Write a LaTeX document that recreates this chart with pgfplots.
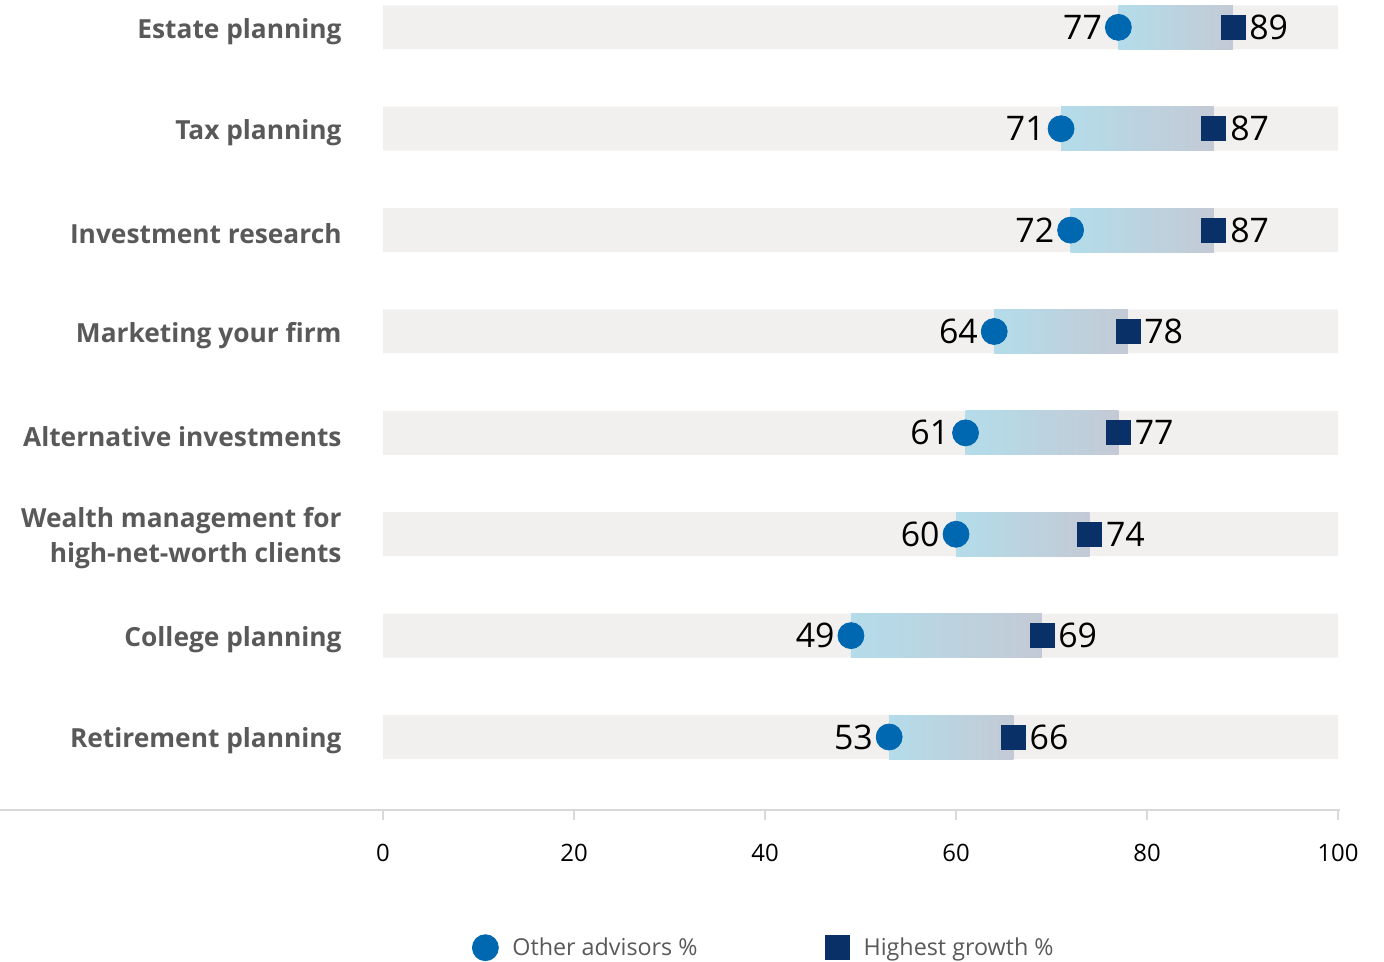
\documentclass[border=0pt]{standalone}
\usepackage{pgfplots}
\pgfplotsset{compat=1.18}
\usepackage{pgfplotstable}
\usepackage{fontspec}
\setmainfont{Open Sans}
\definecolor{bgray}{HTML}{F1F0EF}
\definecolor{gradL}{HTML}{B4DCEA}
\definecolor{gradR}{HTML}{C3CAD5}
\definecolor{dotblue}{HTML}{0068B1}
\definecolor{sqnavy}{HTML}{0A3068}
\definecolor{labgray}{HTML}{595959}
\definecolor{axgray}{HTML}{D9D9D9}

\pgfplotstableread{
idx other high full
0 53 66 100
1 49 69 100
2 60 74 100
3 61 77 100
4 64 78 100
5 72 87 100
6 71 87 100
7 77 89 100
}\data

\pgfplotsset{
  base/.style={
    width=477.5bp, height=405bp, scale only axis,
    xmin=0, xmax=100, ymin=-0.72, ymax=7.27,
    at={(191.5bp,76bp)}, anchor=south west,
    axis line style={draw=none},
    /pgf/number format/assume math mode=true,
    clip=false,
  },
  hidden/.style={base, xtick=\empty, ytick=\empty},
}

\begin{document}
\begin{tikzpicture}
\path[use as bounding box] (0,0) rectangle (692bp,481bp);

% background bars, axis, ticks, labels
\begin{axis}[base,
  xtick={0,20,...,100},
  tick align=outside,
  xtick pos=bottom,
  major tick length=5bp,
  xtick style={color=axgray, line width=1bp},
  xticklabel style={font=\fontsize{12}{14}\selectfont, text=black, inner sep=0pt, yshift=-12bp, anchor=north},
  ytick={0,...,7},
  ytick style={draw=none},
  yticklabels={Retirement planning, College planning, {Wealth management for\\high-net-worth clients}, Alternative investments, Marketing your firm, Investment research, Tax planning, Estate planning},
  yticklabel style={font=\bfseries\fontsize{13.2}{17.5}\selectfont, text=labgray, align=right, inner sep=0pt, xshift=-15.5bp, yshift=-2bp, anchor=east},
]
\addplot[xbar, bar width=0.434, fill=bgray, draw=none] table[x=full, y=idx] {\data};
\draw[axgray, line width=1bp] (rel axis cs:-0.401,0) -- (rel axis cs:1.002,0);
\end{axis}

% gradient range bars (one shaded node per row, from other to high)
\begin{axis}[hidden]
\addplot[only marks, mark=*, mark size=0.1bp, mark options={draw=none, fill=none},
  visualization depends on={\thisrow{high}-\thisrow{other} \as \len},
  point meta=x, nodes near coords={},
  nodes near coords style={anchor=west, inner sep=0pt, outer sep=0pt,
    minimum width=\len*4.775bp, minimum height=22bp,
    left color=gradL, right color=gradR, draw=none}]
  table[x=other, y=idx] {\data};
\end{axis}

% markers, value labels, legend
\begin{axis}[hidden,
  legend columns=2,
  legend style={at={(0.4,-0.17)}, anchor=center, draw=none, fill=none,
    font=\fontsize{11.7}{14}\selectfont, text=labgray,
    /tikz/every odd column/.append style={column sep=5bp},
    /tikz/every even column/.append style={column sep=62bp}},
]
\addplot[only marks, mark=*, mark size=6.5bp, color=dotblue, mark options={draw=dotblue, fill=dotblue},
  point meta=x, nodes near coords,
  nodes near coords style={anchor=east, inner sep=0pt, xshift=-8bp, text=black, font=\fontsize{17}{20}\selectfont}]
  table[x=other, y=idx] {\data};
\addlegendentry{Other advisors \%}
\addplot[only marks, mark=square*, mark size=6bp, color=sqnavy, mark options={draw=sqnavy, fill=sqnavy},
  point meta=x, nodes near coords,
  nodes near coords style={anchor=west, inner sep=0pt, xshift=8bp, text=black, font=\fontsize{17}{20}\selectfont}]
  table[x=high, y=idx] {\data};
\addlegendentry{Highest growth \%}
\end{axis}
\end{tikzpicture}
\end{document}
